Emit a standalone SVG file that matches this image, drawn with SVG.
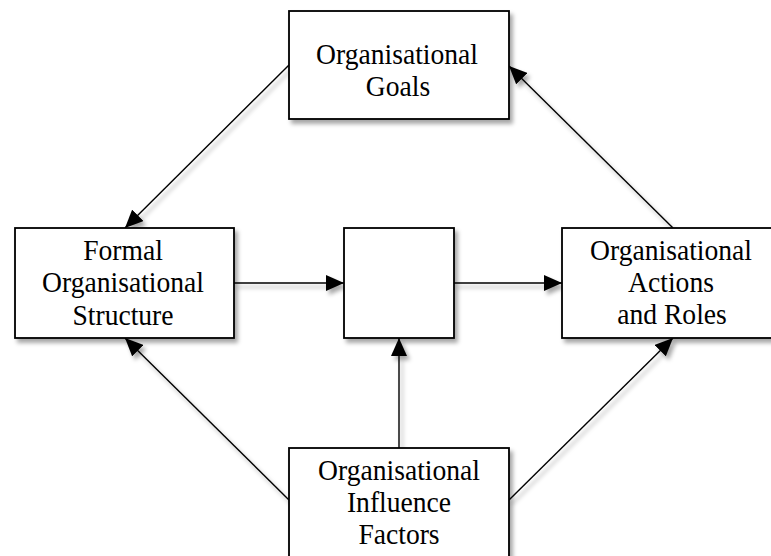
<svg xmlns="http://www.w3.org/2000/svg" width="771" height="556" viewBox="0 0 771 556">
  <defs>
    <filter id="shadow" x="-10%" y="-10%" width="130%" height="130%">
      <feDropShadow dx="3" dy="4" stdDeviation="2" flood-color="#000" flood-opacity="0.35"/>
    </filter>
    <marker id="arrow" viewBox="0 0 18 16" refX="18" refY="8" markerWidth="18" markerHeight="16" markerUnits="userSpaceOnUse" orient="auto">
      <path d="M0,0 L18,8 L0,16 Z" fill="#000"/>
    </marker>
  </defs>
  <style>
    .box { fill: #fff; stroke: #000; stroke-width: 1.8; }
    .edge { fill: none; stroke: #000; stroke-width: 1.4; marker-end: url(#arrow); }
    text { font-family: "Liberation Serif", "Times New Roman", serif; font-size: 30px; fill: #000; text-anchor: middle; }
  </style>
  <rect width="771" height="556" fill="#fff"/>

  <g id="connectors" filter="url(#shadow)">
    <line class="edge" x1="289" y1="65" x2="125" y2="228"/>
    <line class="edge" x1="673" y1="228" x2="509" y2="66"/>
    <line class="edge" x1="234" y1="283" x2="344" y2="283"/>
    <line class="edge" x1="454" y1="283" x2="562" y2="283"/>
    <line class="edge" x1="399" y1="448" x2="399" y2="338"/>
    <line class="edge" x1="289" y1="500" x2="125" y2="338"/>
    <line class="edge" x1="509" y1="500" x2="673" y2="338"/>
  </g>

  <!-- labels are set slightly condensed (scaleX 0.92) -->
  <g id="goals">
    <rect class="box" x="289" y="11" width="220" height="108" filter="url(#shadow)"/>
    <text transform="translate(397,64) scale(0.92,1)">Organisational</text>
    <text transform="translate(398,96) scale(0.92,1)">Goals</text>
  </g>

  <g id="structure">
    <rect class="box" x="15" y="228" width="219" height="110" filter="url(#shadow)"/>
    <text transform="translate(123,260) scale(0.92,1)">Formal</text>
    <text transform="translate(123,292) scale(0.92,1)">Organisational</text>
    <text transform="translate(123,325) scale(0.92,1)">Structure</text>
  </g>

  <g id="center">
    <rect class="box" x="344" y="228" width="110" height="110" filter="url(#shadow)"/>
  </g>

  <g id="actions">
    <rect class="box" x="562" y="228" width="219" height="110" filter="url(#shadow)"/>
    <text transform="translate(671,260) scale(0.92,1)">Organisational</text>
    <text transform="translate(671,292) scale(0.92,1)">Actions</text>
    <text transform="translate(672,324) scale(0.92,1)">and Roles</text>
  </g>

  <g id="influence">
    <rect class="box" x="289" y="448" width="220" height="110" filter="url(#shadow)"/>
    <text transform="translate(399,480) scale(0.92,1)">Organisational</text>
    <text transform="translate(399,512) scale(0.92,1)">Influence</text>
    <text transform="translate(399,544) scale(0.92,1)">Factors</text>
  </g>
</svg>
